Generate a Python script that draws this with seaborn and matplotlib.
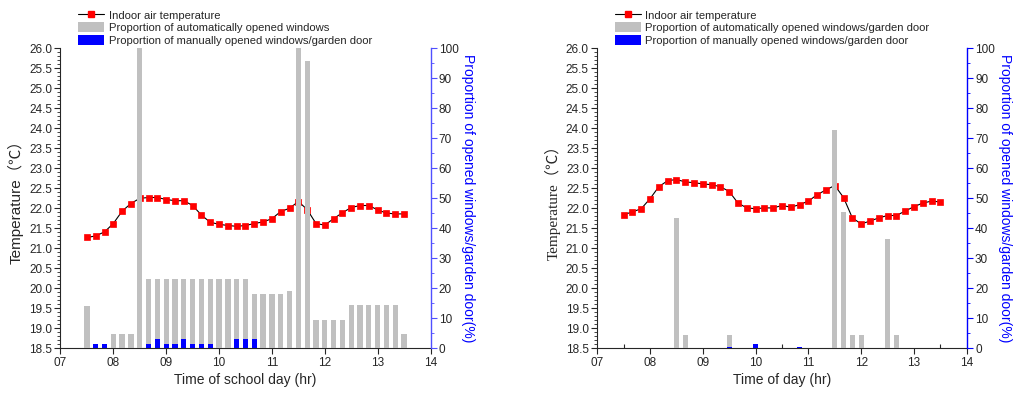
import matplotlib
matplotlib.use("Agg")
import matplotlib.pyplot as plt
import seaborn as sns
import pandas as pd
from matplotlib.lines import Line2D
from matplotlib.patches import Patch
from matplotlib.ticker import MultipleLocator, FormatStrFormatter

# 10-minute readings, 07:30 - 13:30
clock = ["07:30", "07:40", "07:50", "08:00", "08:10", "08:20",
         "08:30", "08:40", "08:50", "09:00", "09:10", "09:20",
         "09:30", "09:40", "09:50", "10:00", "10:10", "10:20",
         "10:30", "10:40", "10:50", "11:00", "11:10", "11:20",
         "11:30", "11:40", "11:50", "12:00", "12:10", "12:20",
         "12:30", "12:40", "12:50", "13:00", "13:10", "13:20",
         "13:30"]

# left panel: school day
temp_school = [21.27, 21.31, 21.41, 21.62, 21.93, 22.12,
               22.25, 22.27, 22.27, 22.22, 22.19, 22.19,
               22.07, 21.83, 21.65, 21.60, 21.57, 21.55,
               21.57, 21.62, 21.66, 21.74, 21.92, 22.00,
               22.17, 21.97, 21.62, 21.58, 21.74, 21.89,
               22.02, 22.07, 22.07, 21.96, 21.88, 21.86,
               21.86]
auto_school = [14.0, 0, 0, 4.8, 4.8, 4.8,
               100, 23.0, 23.0, 23.0, 23.0, 23.0,
               23.0, 23.0, 23.0, 23.0, 23.0, 23.0,
               23.0, 18.2, 18.2, 18.2, 18.2, 19.1,
               100, 95.8, 9.5, 9.5, 9.5, 9.5,
               14.3, 14.3, 14.3, 14.3, 14.3, 14.3,
               4.8]
manual_school = [0, 1.5, 1.5, 0, 0, 0,
                 0, 1.5, 3.0, 1.5, 1.5, 3.0,
                 1.5, 1.5, 1.5, 0, 0, 3.0,
                 3.0, 3.0, 0, 0, 0, 0,
                 0, 0, 0, 0, 0, 0,
                 0, 0, 0, 0, 0, 0,
                 0]

# right panel: whole day
temp_day = [21.84, 21.91, 21.99, 22.24, 22.54, 22.69,
            22.72, 22.66, 22.64, 22.61, 22.59, 22.54,
            22.42, 22.13, 22.01, 21.99, 22.01, 22.01,
            22.07, 22.03, 22.09, 22.18, 22.34, 22.46,
            22.57, 22.27, 21.76, 21.61, 21.68, 21.76,
            21.82, 21.82, 21.93, 22.04, 22.13, 22.18,
            22.16]
auto_day = [0, 0, 0, 0, 0, 0,
            43.5, 4.5, 0, 0, 0, 0,
            4.5, 0, 0, 0, 0, 0,
            0, 0, 0, 0, 0, 0,
            72.8, 45.4, 4.5, 4.5, 0, 0,
            36.4, 4.5, 0, 0, 0, 0,
            0]
manual_day = [0, 0, 0, 0, 0, 0,
              0, 0, 0, 0, 0, 0,
              0.5, 0, 0, 1.5, 0, 0,
              0, 0, 0.4, 0, 0, 0,
              0, 0, 0, 0, 0, 0,
              0, 0, 0, 0, 0, 0,
              0]

hours = [int(c[:2]) + int(c[3:]) / 60 for c in clock]
x_ticklabels = ["07", "08", "09", "10", "11", "12", "13", "14"]

sns.set_style("ticks")
plt.rcParams["font.family"] = ["Liberation Sans", "Noto Sans CJK SC", "DejaVu Sans"]
plt.rcParams["font.size"] = 8.5

fig = plt.figure(figsize=(10.18, 3.98), dpi=100)

GRAY = "#c0c0c0"
BLUE = "#0000ff"
MS = 4.2


def draw_panel(rect, temp, auto, manual, xlabel, auto_label, ylab_family, axis_blue):
    ax = fig.add_axes(rect)
    df = pd.DataFrame({"hour": hours, "temp": temp, "auto": auto, "manual": manual})

    sns.lineplot(data=df, x="hour", y="temp", ax=ax, color="black", lw=0.8,
                 marker="s", markersize=MS, markerfacecolor="red",
                 markeredgecolor="red", markeredgewidth=0.5)

    ax2 = ax.twinx()
    sns.barplot(data=df, x="hour", y="auto", ax=ax2, native_scale=True,
                color=GRAY, saturation=1, width=0.6, errorbar=None, linewidth=0)
    sns.barplot(data=df, x="hour", y="manual", ax=ax2, native_scale=True,
                color=BLUE, saturation=1, width=0.6, errorbar=None, linewidth=0)

    ax.set_xlim(7, 14)
    ax2.set_xlim(7, 14)
    ax.set_ylim(18.5, 26.0)
    ax2.set_ylim(0, 100)

    ax.set_xticks(range(7, 15))
    ax.set_xticklabels(x_ticklabels)
    ax.xaxis.set_minor_locator(MultipleLocator(0.5))
    ax.yaxis.set_major_locator(MultipleLocator(0.5))
    ax.yaxis.set_minor_locator(MultipleLocator(0.1))
    ax.yaxis.set_major_formatter(FormatStrFormatter("%.1f"))
    ax2.yaxis.set_major_locator(MultipleLocator(10))
    ax2.yaxis.set_minor_locator(MultipleLocator(5))

    ax.tick_params(axis="x", which="major", direction="out", length=4, width=0.8, pad=2)
    ax.tick_params(axis="x", which="minor", direction="in", length=3, width=0.8)
    ax.tick_params(axis="y", which="major", direction="out", length=4, width=0.8, pad=2)
    ax.tick_params(axis="y", which="minor", direction="out", length=2, width=0.6)
    ax2.tick_params(axis="y", which="major", direction="out", length=4, width=0.8,
                    color=axis_blue, pad=2)
    ax2.tick_params(axis="y", which="minor", direction="out", length=2, width=0.6,
                    color=axis_blue)

    for s in ("top", "right"):
        ax.spines[s].set_visible(False)
    for s in ("top", "left", "bottom"):
        ax2.spines[s].set_visible(False)
    ax2.spines["right"].set_color(axis_blue)
    ax2.spines["right"].set_linewidth(1.0)
    ax.spines["left"].set_linewidth(0.8)
    ax.spines["bottom"].set_linewidth(0.8)

    ax.set_xlabel(xlabel, fontsize=10, labelpad=3)
    ax.set_ylabel("Temperature（℃）", fontsize=11, family=ylab_family, labelpad=4)
    ax2.set_ylabel("Proportion of opened windows/garden door(%)", fontsize=10,
                   color=BLUE, rotation=270, labelpad=12)

    handles = [
        Line2D([], [], color="black", lw=0.8, marker="s", markersize=MS,
               markerfacecolor="red", markeredgecolor="red"),
        Patch(facecolor=GRAY, edgecolor="none"),
        Patch(facecolor=BLUE, edgecolor="none"),
    ]
    labels = ["Indoor air temperature", auto_label,
              "Proportion of manually opened windows/garden door"]
    ax.legend(handles, labels, loc="lower left", bbox_to_anchor=(0.045, 1.005),
              frameon=False, fontsize=8.1, handlelength=2.3, handleheight=1.0,
              labelspacing=0.15, handletextpad=0.4, borderaxespad=0, borderpad=0.1)
    return ax, ax2


draw_panel([0.0594, 0.1249, 0.3635, 0.7537], temp_school, auto_school, manual_school,
           "Time of school day (hr)", "Proportion of automatically opened windows",
           ["Liberation Sans", "Noto Sans CJK SC"], "#5050ff")
draw_panel([0.5867, 0.1249, 0.3629, 0.7537], temp_day, auto_day, manual_day,
           "Time of day (hr)", "Proportion of automatically opened windows/garden door",
           ["Liberation Serif", "Noto Sans CJK SC"], BLUE)

fig.savefig("out.png", dpi=100)
